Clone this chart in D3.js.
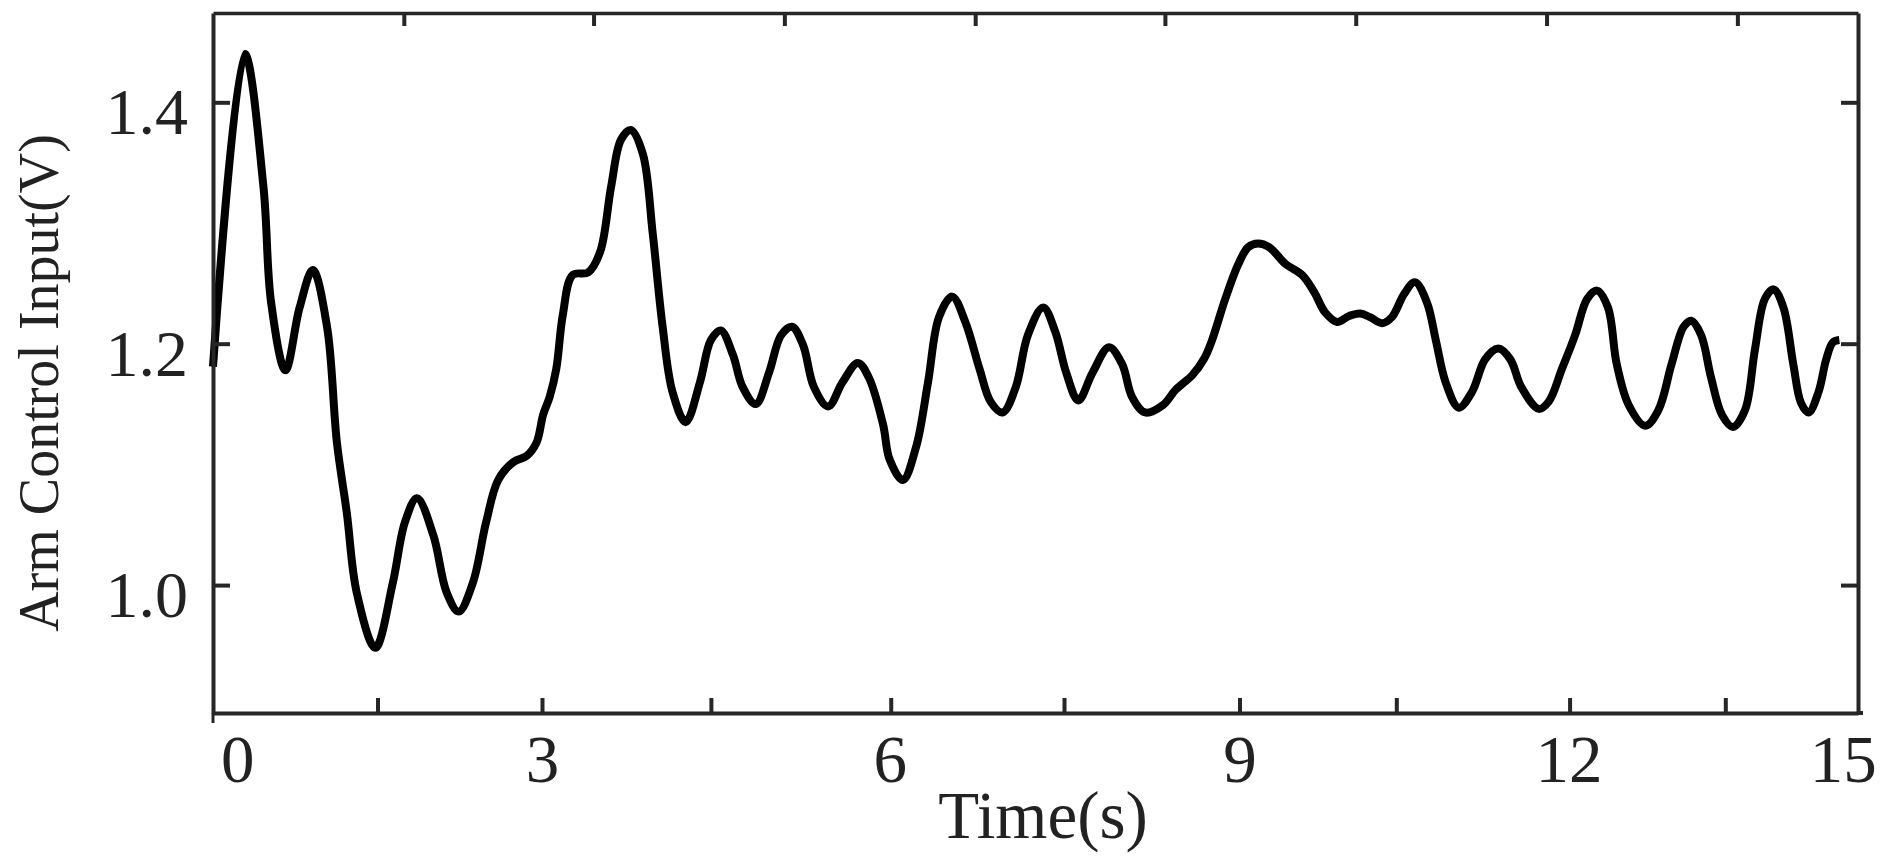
<!DOCTYPE html>
<html>
<head>
<meta charset="utf-8">
<script src="https://cdn.jsdelivr.net/npm/d3@7"></script>
<style>
  body { margin: 0; background: #fff; }
  text { font-family: "Liberation Serif", "Times New Roman", serif; fill: #222; }
</style>
</head>
<body>
<div id="chart"></div>
<script>
// time (s) and arm control input (V)
var time = [0.00, 0.29, 0.46, 0.53, 0.66, 0.79, 0.91, 1.04, 1.13, 1.22, 1.31, 1.48, 1.64, 1.75, 1.86,
  2.01, 2.13, 2.24, 2.37, 2.49, 2.60, 2.74, 2.86, 2.95, 3.01, 3.07, 3.13, 3.19, 3.28, 3.42, 3.53,
  3.63, 3.72, 3.81, 3.92, 4.01, 4.10, 4.19, 4.31, 4.44, 4.54, 4.63, 4.74, 4.83, 4.95, 5.07, 5.18,
  5.28, 5.38, 5.48, 5.61, 5.74, 5.88, 5.98, 6.11, 6.17, 6.29, 6.41, 6.52, 6.62, 6.74, 6.86, 6.99,
  7.09, 7.20, 7.32, 7.43, 7.57, 7.68, 7.78, 7.89, 8.02, 8.17, 8.29, 8.38, 8.50, 8.66, 8.78, 8.93,
  9.04, 9.11, 9.23, 9.35, 9.44, 9.53, 9.63, 9.78, 9.93, 10.04, 10.14, 10.25, 10.36, 10.46, 10.55,
  10.66, 10.75, 10.86, 10.96, 11.07, 11.15, 11.24, 11.36, 11.48, 11.60, 11.72, 11.83, 11.93, 12.09,
  12.18, 12.30, 12.42, 12.53, 12.62, 12.72, 12.80, 12.91, 13.06, 13.18, 13.30, 13.41, 13.48, 13.57,
  13.66, 13.76, 13.86, 13.97, 14.06, 14.15, 14.23, 14.32, 14.41, 14.48, 14.55, 14.64, 14.71, 14.77, 14.83];
var input = [1.181, 1.440, 1.330, 1.234, 1.178, 1.230, 1.261, 1.214, 1.118, 1.060, 0.994, 0.948, 1.002, 1.052, 1.072,
  1.041, 0.994, 0.978, 1.002, 1.052, 1.087, 1.102, 1.107, 1.118, 1.141, 1.156, 1.179, 1.224, 1.257, 1.259, 1.276,
  1.330, 1.369, 1.377, 1.357, 1.291, 1.214, 1.160, 1.135, 1.168, 1.203, 1.211, 1.191, 1.164, 1.150, 1.176, 1.207,
  1.214, 1.199, 1.164, 1.148, 1.168, 1.184, 1.172, 1.133, 1.104, 1.087, 1.114, 1.168, 1.222, 1.239, 1.218, 1.179,
  1.152, 1.143, 1.164, 1.207, 1.230, 1.210, 1.176, 1.153, 1.176, 1.197, 1.183, 1.156, 1.143, 1.149, 1.162, 1.174,
  1.188, 1.203, 1.237, 1.266, 1.280, 1.283, 1.280, 1.266, 1.257, 1.243, 1.226, 1.218, 1.223, 1.225, 1.222,
  1.217, 1.222, 1.241, 1.251, 1.234, 1.203, 1.168, 1.147, 1.160, 1.187, 1.196, 1.187, 1.164, 1.146,
  1.152, 1.179, 1.207, 1.237, 1.244, 1.230, 1.183, 1.149, 1.132, 1.145, 1.183, 1.214, 1.219, 1.207,
  1.172, 1.141, 1.131, 1.145, 1.195, 1.237, 1.245, 1.230, 1.183, 1.151, 1.143, 1.160, 1.187, 1.201, 1.203];

// tick positions as printed on the figure (bottom labels are not evenly spaced)
var xLabels = ["0", "3", "6", "9", "12", "15"];
var xLabelPos = [0.22, 3.0, 6.17, 9.36, 12.36, 14.86];
var xBottomTicks = [1.5, 3.0, 4.54, 6.18, 7.76, 9.36, 10.79, 12.37, 13.79];
var xTopTicks = [1.74, 3.47, 5.21, 6.95, 8.68, 10.42, 12.16, 13.90];
var yTicks = [1.0, 1.2, 1.4];
var yLabels = ["1.0", "1.2", "1.4"];

var W = 1895, H = 867;
var plotL = 213, plotR = 1858, plotT = 13, plotB = 713;

var svg = d3.select("#chart").append("svg")
  .attr("width", W)
  .attr("height", H);

var x = d3.scaleLinear().domain([0, 15]).range([plotL, plotR]);
var y = d3.scaleLinear().domain([0.894, 1.474]).range([plotB, plotT]);

var axisColor = "#262626";

// data line
var data = time.map(function(t, i) { return {t: t, v: input[i]}; });
var line = d3.line()
  .x(function(d) { return x(d.t); })
  .y(function(d) { return y(d.v); })
  .curve(d3.curveCatmullRom.alpha(0.5));

svg.append("path")
  .datum(data)
  .attr("fill", "none")
  .attr("stroke", "#000")
  .attr("stroke-width", 8)
  .attr("stroke-linejoin", "round")
  .attr("d", line);

// bottom tick marks
var gBottom = svg.append("g")
  .attr("transform", "translate(0," + plotB + ")")
  .call(d3.axisBottom(x).tickValues(xBottomTicks).tickSizeInner(-15).tickSizeOuter(0).tickFormat(""));

// bottom labels
svg.append("g")
  .attr("transform", "translate(0," + plotB + ")")
  .call(d3.axisBottom(x).tickValues(xLabelPos).tickSize(0).tickPadding(0)
    .tickFormat(function(d, i) { return xLabels[i]; }))
  .call(function(g) { g.select(".domain").remove(); })
  .selectAll("text")
  .attr("y", 69)
  .attr("dy", 0)
  .style("font-size", "67px")
  .style("fill", "#222");

// top ticks
var gTop = svg.append("g")
  .attr("transform", "translate(0," + plotT + ")")
  .call(d3.axisTop(x).tickValues(xTopTicks).tickSizeInner(-13).tickSizeOuter(0).tickFormat(""));

// left axis
var gLeft = svg.append("g")
  .attr("transform", "translate(" + plotL + ",0)")
  .call(d3.axisLeft(y).tickValues(yTicks).tickSizeInner(-17).tickSizeOuter(0).tickPadding(25)
    .tickFormat(function(d, i) { return yLabels[i]; }));
gLeft.selectAll("text")
  .attr("dy", "0.48em")
  .style("font-size", "66px")
  .style("fill", "#222");

// right axis
var gRight = svg.append("g")
  .attr("transform", "translate(" + plotR + ",0)")
  .call(d3.axisRight(y).tickValues(yTicks).tickSizeInner(-17).tickSizeOuter(0).tickFormat(""));

[gBottom, gTop, gLeft, gRight].forEach(function(g) {
  g.select(".domain").attr("stroke", axisColor).attr("stroke-width", 4);
  g.selectAll(".tick line").attr("stroke", axisColor).attr("stroke-width", 4);
});
gTop.select(".domain").attr("stroke-width", 3.5);

// little overshoot of the frame at the bottom corners
svg.append("line")
  .attr("x1", plotL).attr("x2", plotL)
  .attr("y1", plotB).attr("y2", plotB + 10)
  .attr("stroke", axisColor).attr("stroke-width", 3);
svg.append("line")
  .attr("x1", plotR).attr("x2", plotR + 5)
  .attr("y1", plotB).attr("y2", plotB)
  .attr("stroke", axisColor).attr("stroke-width", 4);

// axis titles
svg.append("text")
  .attr("x", 1043)
  .attr("y", 838)
  .attr("text-anchor", "middle")
  .style("font-size", "67px")
  .text("Time(s)");

svg.append("text")
  .attr("transform", "translate(58,383) rotate(-90)")
  .attr("text-anchor", "middle")
  .style("font-size", "56px")
  .text("Arm Control Input(V)");
</script>
</body>
</html>
